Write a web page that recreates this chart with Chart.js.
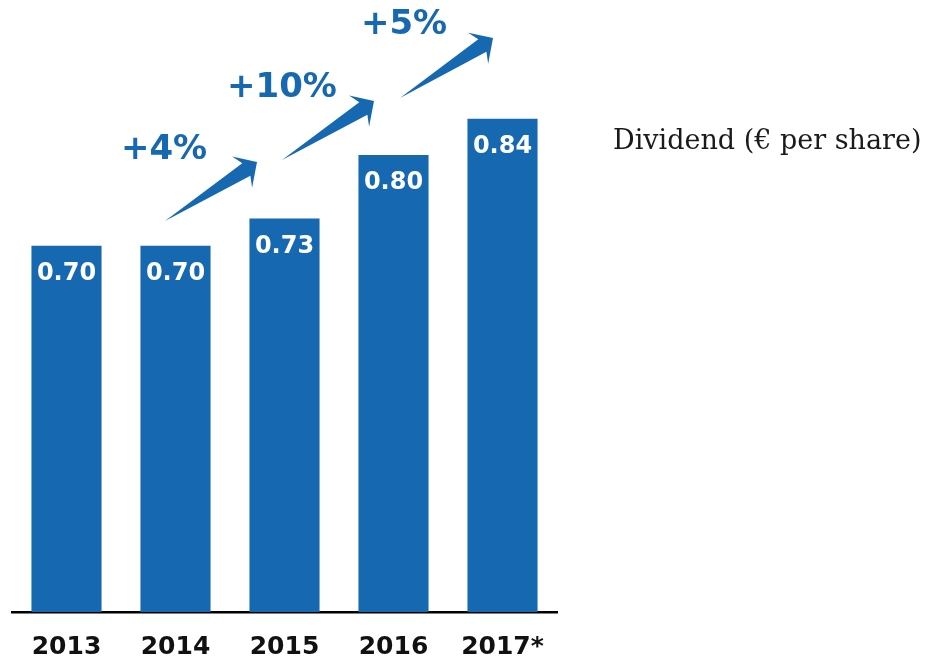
<!DOCTYPE html>
<html lang="en">
  <head>
    <meta charset="UTF-8" />
    <title>Dividend per share</title>
    <script src="https://cdn.jsdelivr.net/npm/chart.js@4/dist/chart.umd.min.js"></script>
    <style>
      html, body { margin: 0; padding: 0; background: #fff; }
      #wrap { width: 928px; height: 662px; }
    </style>
  </head>

  <body>
    <div id="wrap">
      <canvas id="myChart" width="928" height="662"></canvas>
    </div>

    <script>
      const years = ["2013", "2014", "2015", "2016", "2017*"];
      const dividends = [0.70, 0.70, 0.73, 0.80, 0.84];
      const growthLabels = ["+4%", "+10%", "+5%"];
      const seriesLabel = "Dividend (€ per share)";

      const BLUE = "#1668b0";

      // arrows + growth text, legend text and value labels
      const decorations = {
        id: "decorations",
        afterDatasetsDraw(chart) {
          const { ctx } = chart;
          const meta = chart.getDatasetMeta(0);

          // values inside bars
          ctx.save();
          ctx.fillStyle = "#fff";
          ctx.font = "bold 24px 'DejaVu Sans'";
          ctx.textAlign = "center";
          ctx.textBaseline = "middle";
          meta.data.forEach((bar, i) => {
            ctx.fillText(dividends[i].toFixed(2), bar.x, bar.y + 28);
          });
          ctx.restore();

          // growth arrows
          const arrows = [
            { tail: [165, 221], tip: [257, 162], text: [164, 150] },
            { tail: [282, 160], tip: [374, 101], text: [282, 88] },
            { tail: [400, 98], tip: [493, 38], text: [404, 25] },
          ];
          ctx.save();
          ctx.fillStyle = BLUE;
          arrows.forEach((a, i) => {
            const dx = a.tip[0] - a.tail[0];
            const dy = a.tip[1] - a.tail[1];
            const L = Math.hypot(dx, dy);
            const ux = dx / L, uy = dy / L;
            const nx = -uy, ny = ux;
            const pt = (u, v) => [a.tail[0] + ux * u + nx * v, a.tail[1] + uy * u + ny * v];
            const pts = [
              pt(0, 0),
              pt(L - 13, -7),
              pt(L - 18, -18),
              pt(L, 0),
              pt(L - 18, 19),
              pt(L - 13, 8),
            ];
            ctx.beginPath();
            ctx.moveTo(pts[0][0], pts[0][1]);
            for (let k = 1; k < pts.length; k++) ctx.lineTo(pts[k][0], pts[k][1]);
            ctx.closePath();
            ctx.fill();

            ctx.font = "bold 34px 'DejaVu Sans'";
            ctx.textAlign = "center";
            ctx.textBaseline = "middle";
            ctx.fillText(growthLabels[i], a.text[0], a.text[1]);
          });
          ctx.restore();

          // legend-like label on the right
          ctx.save();
          ctx.fillStyle = "#1a1a1a";
          ctx.font = "27px 'DejaVu Serif'";
          ctx.textAlign = "left";
          ctx.textBaseline = "middle";
          ctx.fillText(seriesLabel, 613, 142);
          ctx.restore();
        },
      };

      const ctx = document.getElementById("myChart");
      new Chart(ctx, {
        type: "bar",
        data: {
          labels: years,
          datasets: [
            {
              label: seriesLabel,
              data: dividends,
              backgroundColor: BLUE,
              borderWidth: 0,
              categoryPercentage: 1,
              barPercentage: 0.643,
            },
          ],
        },
        options: {
          responsive: false,
          animation: false,
          layout: { padding: { left: 12, right: 371, top: 0, bottom: 0 } },
          plugins: {
            legend: { display: false },
            tooltip: { enabled: false },
          },
          scales: {
            x: {
              grid: { display: false, drawTicks: false },
              border: { display: true, color: "#000", width: 2.5 },
              ticks: {
                color: "#111",
                font: { family: "'DejaVu Sans'", size: 25, weight: "bold" },
                padding: 20,
                maxRotation: 0,
                autoSkip: false,
              },
              afterFit(scale) {
                scale.height = 50;
              },
            },
            y: {
              display: false,
              min: 0.296,
              max: 0.971,
            },
          },
        },
        plugins: [decorations],
      });
    </script>
  </body>
</html>
